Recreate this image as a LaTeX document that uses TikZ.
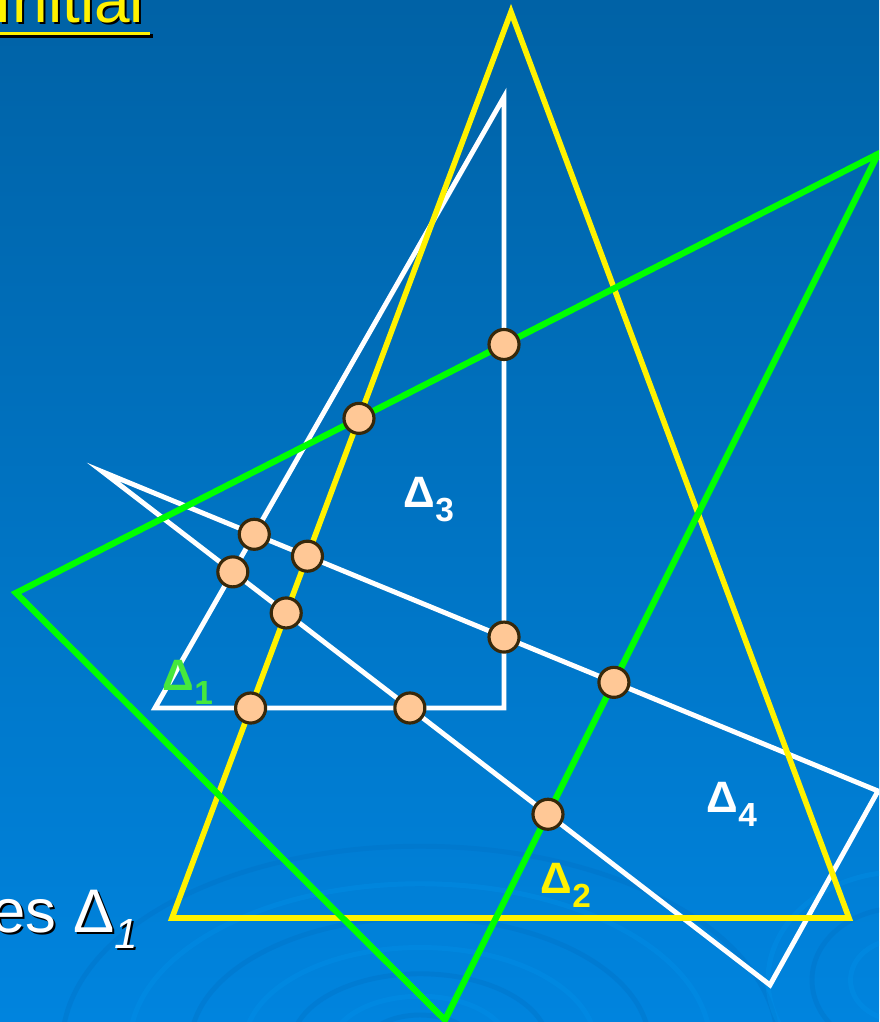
\documentclass[tikz,border=0pt]{standalone}
\usepackage{fontspec}
\setmainfont{Liberation Sans}
\usepackage{xcolor}
\usepackage{tikz}

\definecolor{bgtop}{RGB}{0,98,166}
\definecolor{bgmid}{RGB}{0,108,182}
\definecolor{bgbot}{RGB}{0,132,222}
\definecolor{ripA}{RGB}{0,146,234}
\definecolor{ripB}{RGB}{0,112,196}
\definecolor{lgreen}{RGB}{0,255,0}
\definecolor{tgreen}{RGB}{70,232,60}
\definecolor{dotfill}{RGB}{255,200,150}
\definecolor{dotline}{RGB}{55,40,10}

\newcommand{\tri}[1]{Δ\raisebox{-4pt}{\fontsize{9.5}{10}\selectfont #1}}

\begin{document}
\begin{tikzpicture}[x=0.01cm,y=-0.01cm,
  wline/.style={draw=white,line width=1.4pt},
  yline/.style={draw=yellow,line width=1.6pt},
  gline/.style={draw=lgreen,line width=1.8pt},
  ripple/.style={line width=1.4pt,opacity=0.35},
  ptdot/.style={circle,draw=dotline,fill=dotfill,line width=0.9pt,
    minimum size=0.3cm,inner sep=0pt},
  trilabel/.style={font=\bfseries\fontsize{12.5}{14}\selectfont,
    inner sep=0pt,anchor=base west}]
  \useasboundingbox (0,0) rectangle (879,1022);
  \clip (0,0) rectangle (879,1022);
  \shade[top color=bgtop,middle color=bgmid,bottom color=bgbot] (0,0) rectangle (879,1022);

  % water rings
  \foreach \r/\c in {40/ripB,65/ripA,95/ripB,130/ripA,170/ripB,215/ripA,265/ripB}
    \draw[ripple,\c] (420,1045) ellipse ({1.35*\r} and {0.75*\r});
  \foreach \r/\c in {45/ripA,80/ripB,120/ripA}
    \draw[ripple,\c] (900,980) ellipse ({1.1*\r} and {0.9*\r});

  % corners
  \coordinate (aA) at (155,708);
  \coordinate (aB) at (504,708);
  \coordinate (aC) at (504,97);
  \coordinate (bA) at (103,472);
  \coordinate (bB) at (878,791);
  \coordinate (bC) at (770,985);
  \coordinate (yT) at (511,12);
  \coordinate (yL) at (172,918);
  \coordinate (yR) at (849,918);
  \coordinate (gL) at (16,593);
  \coordinate (gR) at (878,154);
  \coordinate (gB) at (445,1020);

  \draw[wline] (aA) -- (aB) -- (aC) -- cycle;
  \draw[wline] (bA) -- (bB) -- (bC) -- cycle;
  \draw[yline] (yT) -- (yR) -- (yL) -- cycle;
  \draw[gline] (gL) -- (gR) -- (gB) -- cycle;

  % crossing points
  \node[ptdot] (p1) at (intersection of aB--aC and gL--gR) {};
  \node[ptdot] (p2) at (intersection of yT--yL and gL--gR) {};
  \node[ptdot] (p3) at (intersection of aA--aC and bA--bB) {};
  \node[ptdot] (p4) at (intersection of yT--yL and bA--bB) {};
  \node[ptdot] (p5) at (intersection of aA--aC and bA--bC) {};
  \node[ptdot] (p6) at (intersection of yT--yL and bA--bC) {};
  \node[ptdot] (p7) at (intersection of aB--aC and bA--bB) {};
  \node[ptdot] (p8) at (intersection of gR--gB and bA--bB) {};
  \node[ptdot] (p9) at (intersection of yT--yL and aA--aB) {};
  \node[ptdot] (p10) at (intersection of aA--aB and bA--bC) {};
  \node[ptdot] (p11) at (intersection of gR--gB and bA--bC) {};

  \node[trilabel,text=tgreen] (t1) at (162,690) {\tri{1}};
  \node[trilabel,text=yellow] (t2) at (540,893) {\tri{2}};
  \node[trilabel,text=white] (t3) at (403,507) {\tri{3}};
  \node[trilabel,text=white] (t4) at (706,812) {\tri{4}};

  % title and caption, with shadow
  \node[anchor=base west,inner sep=0pt,text=black] (hs) at (-4,25)
    {\fontsize{18.2}{20}\selectfont Initial};
  \node[anchor=base west,inner sep=0pt,text=yellow] (h) at (-6,23)
    {\fontsize{18.2}{20}\selectfont Initial};
  \draw[black,line width=1pt] (-5,36) -- (153,36);
  \draw[yellow,line width=1pt] (-8,33.5) -- (150,33.5);
  \node[anchor=base east,inner sep=0pt,text=black] (cs) at (141,934)
    {\fontsize{17.5}{20}\selectfont es Δ\raisebox{-4.8pt}{\fontsize{12}{12}\selectfont\itshape 1}};
  \node[anchor=base east,inner sep=0pt,text=white] (c) at (139,932)
    {\fontsize{17.5}{20}\selectfont es Δ\raisebox{-4.8pt}{\fontsize{12}{12}\selectfont\itshape 1}};
\end{tikzpicture}
\end{document}
